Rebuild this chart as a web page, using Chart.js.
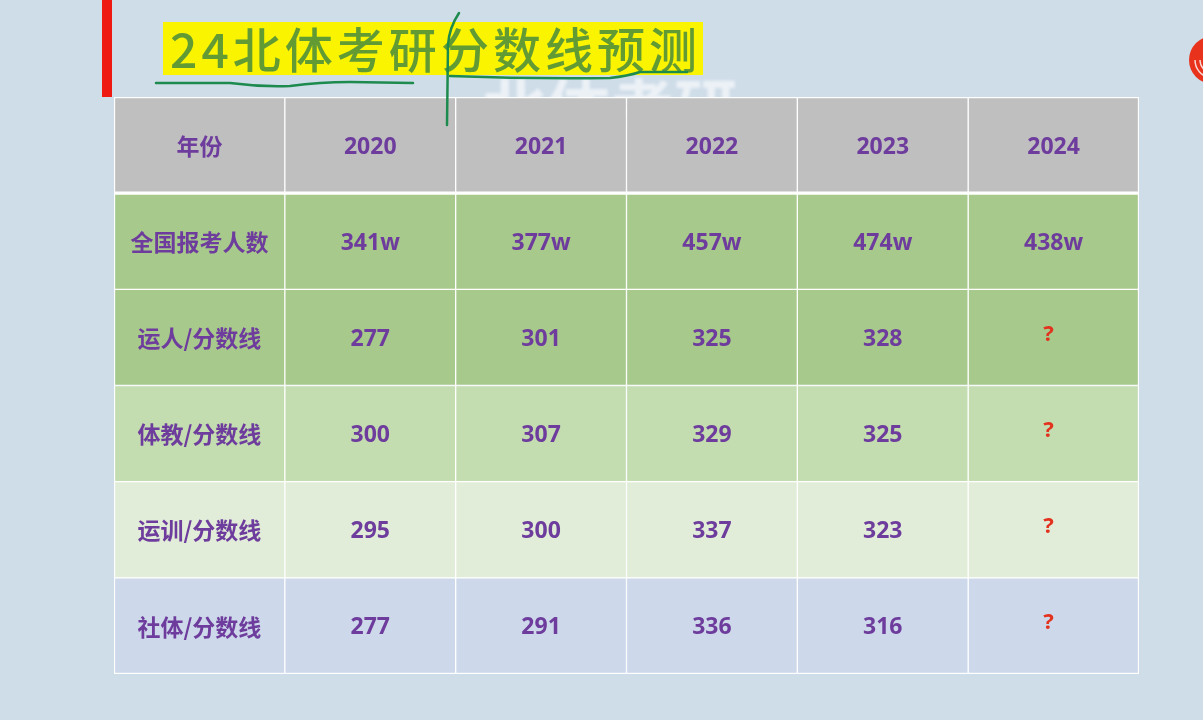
<!DOCTYPE html>
<html>
<head>
<meta charset="utf-8">
<title>24北体考研分数线预测</title>
<script src="https://cdn.jsdelivr.net/npm/chart.js@4.4.1/dist/chart.umd.min.js"></script>
<style>
  html, body { margin: 0; padding: 0; background: #cfdde9; }
  #wrap { width: 1203px; height: 720px; }
</style>
</head>
<body>
<div id="wrap"><canvas id="tableChart" width="1203" height="720"></canvas></div>
<script>

// Table Data

const title = "24北体考研分数线预测";
const rowLabels = ["年份", "全国报考人数", "运人/分数线", "体教/分数线", "运训/分数线", "社体/分数线"];
const years = ["2020", "2021", "2022", "2023", "2024"];
const applicants = [341, 377, 457, 474, 438]; // 万人
const yunrenScores = [277, 301, 325, 328, null];
const tijiaoScores = [300, 307, 329, 325, null];
const yunxunScores = [295, 300, 337, 323, null];
const shetiScores = [277, 291, 336, 316, null];

// Row colours

const rowColors = ["#bfbfbf", "#a8c98c", "#a8c98c", "#c3dcb0", "#e1edd8", "#cdd8ea"];
const textColor = "#6d3c9c";

// Cell text per row (first column is the row label)

const rowCells = [
  years,
  applicants.map(v => v + "w"),
  yunrenScores,
  tijiaoScores,
  yunxunScores,
  shetiScores
];

const colCount = years.length + 1;

// One dataset per column, each cell is a floating bar [col, col + 1]

const datasets = [];

for (let c = 0; c < colCount; c++) {

  datasets.push({
    data: rowLabels.map(() => [c, c + 1]),
    backgroundColor: rowColors,
    borderColor: "#ffffff",
    borderWidth: ctx => ({
      left: c === 0 ? 1.5 : 1,
      right: c === colCount - 1 ? 1.5 : 1,
      top: ctx.dataIndex === 1 ? 2 : (ctx.dataIndex === 0 ? 1.5 : 1),
      bottom: ctx.dataIndex === 0 ? 2 : (ctx.dataIndex === rowLabels.length - 1 ? 1.5 : 1)
    }),
    borderSkipped: false,
    grouped: false,
    barPercentage: 1,
    categoryPercentage: 1
  });

}

// Drawing helpers

const isCJK = s => /[\u4e00-\u9fff]/.test(s);

const decorPlugin = {

  id: "decor",

  beforeDraw(chart) {

    const c = chart.ctx;

    c.save();

    // Background
    c.fillStyle = "#cfdde9";
    c.fillRect(0, 0, chart.width, chart.height);

    // Red side bar
    c.fillStyle = "#ee1a12";
    c.fillRect(102, 0, 10, 97);

    // Faint watermark behind the table
    c.globalAlpha = 0.6;
    c.fillStyle = "#ffffff";
    c.filter = "blur(1.5px)";
    c.font = '700 64px "Noto Sans CJK SC"';
    c.textBaseline = "top";
    c.fillText("北体考研", 482, 76);
    c.filter = "none";
    c.globalAlpha = 1;

    // Logo at the right edge
    c.beginPath();
    c.arc(1213, 60, 24, 0, Math.PI * 2);
    c.fillStyle = "#e8321c";
    c.fill();
    c.strokeStyle = "rgba(255,255,255,0.8)";
    c.lineWidth = 1.5;
    [8, 13, 18].forEach(r => {
      c.beginPath();
      c.arc(1213, 60, r, Math.PI * 0.55, Math.PI * 1.0);
      c.stroke();
    });

    c.restore();

  },

  afterDatasetsDraw(chart) {

    const c = chart.ctx;
    const x = chart.scales.x;
    const y = chart.scales.y;

    c.save();
    c.textAlign = "center";
    c.textBaseline = "middle";

    rowLabels.forEach((label, r) => {

      const py = y.getPixelForValue(r);

      // Row label
      c.fillStyle = textColor;
      c.font = '700 23px "Noto Sans CJK SC"';
      c.fillText(label, x.getPixelForValue(0.5), py + 1);

      // Values
      rowCells[r].forEach((v, i) => {

        const px = x.getPixelForValue(i + 1.5);

        if (v === null) {
          c.fillStyle = "#e3321e";
          c.font = '700 22px "Noto Sans"';
          c.fillText("?", px - 5, py - 3);
          return;
        }

        const s = String(v);
        c.fillStyle = textColor;
        c.font = isCJK(s) ? '700 23px "Noto Sans CJK SC"' : '700 23px "Noto Sans"';
        c.fillText(s, px, py + 2);

      });

    });

    c.restore();

  },

  afterDraw(chart) {

    const c = chart.ctx;

    c.save();

    // Yellow highlight
    c.fillStyle = "#fbf400";
    c.fillRect(163, 22, 540, 53);

    // Title, spread over the highlight
    c.font = '500 48px "Noto Sans CJK SC"';
    c.textBaseline = "middle";
    c.textAlign = "left";
    c.fillStyle = "#629a34";

    const chars = [...title];
    const widths = chars.map(ch => c.measureText(ch).width);
    const total = widths.reduce((a, b) => a + b, 0);
    const gap = (527 - total) / (chars.length - 1);

    let tx = 170;
    chars.forEach((ch, i) => {
      c.fillText(ch, tx, 50);
      tx += widths[i] + gap;
    });

    // Hand-drawn pen marks
    c.strokeStyle = "#1d8a4e";
    c.lineWidth = 2.5;
    c.lineCap = "round";
    c.lineJoin = "round";

    c.beginPath();
    c.moveTo(156, 83);
    c.lineTo(230, 83);
    c.quadraticCurveTo(260, 87, 290, 86);
    c.quadraticCurveTo(320, 82, 350, 82);
    c.lineTo(413, 83);
    c.stroke();

    c.beginPath();
    c.moveTo(459, 13);
    c.quadraticCurveTo(449, 28, 448, 45);
    c.lineTo(447, 125);
    c.stroke();

    c.beginPath();
    c.moveTo(450, 76);
    c.quadraticCurveTo(530, 79, 610, 78);
    c.quadraticCurveTo(628, 76, 640, 72);
    c.lineTo(687, 72);
    c.stroke();

    c.restore();

  }

};

// Chart

const ctx = document.getElementById("tableChart");

new Chart(ctx, {

  type: "bar",

  data: {
    labels: rowLabels,
    datasets: datasets
  },

  options: {

    indexAxis: "y",
    responsive: false,
    animation: false,

    layout: {
      padding: { left: 114, right: 64, top: 97, bottom: 46 }
    },

    plugins: {
      legend: { display: false },
      tooltip: { enabled: false }
    },

    scales: {

      x: {
        type: "linear",
        min: 0,
        max: colCount,
        display: false
      },

      y: {
        type: "category",
        display: false
      }

    }

  },

  plugins: [decorPlugin]

});
</script>
</body>
</html>
